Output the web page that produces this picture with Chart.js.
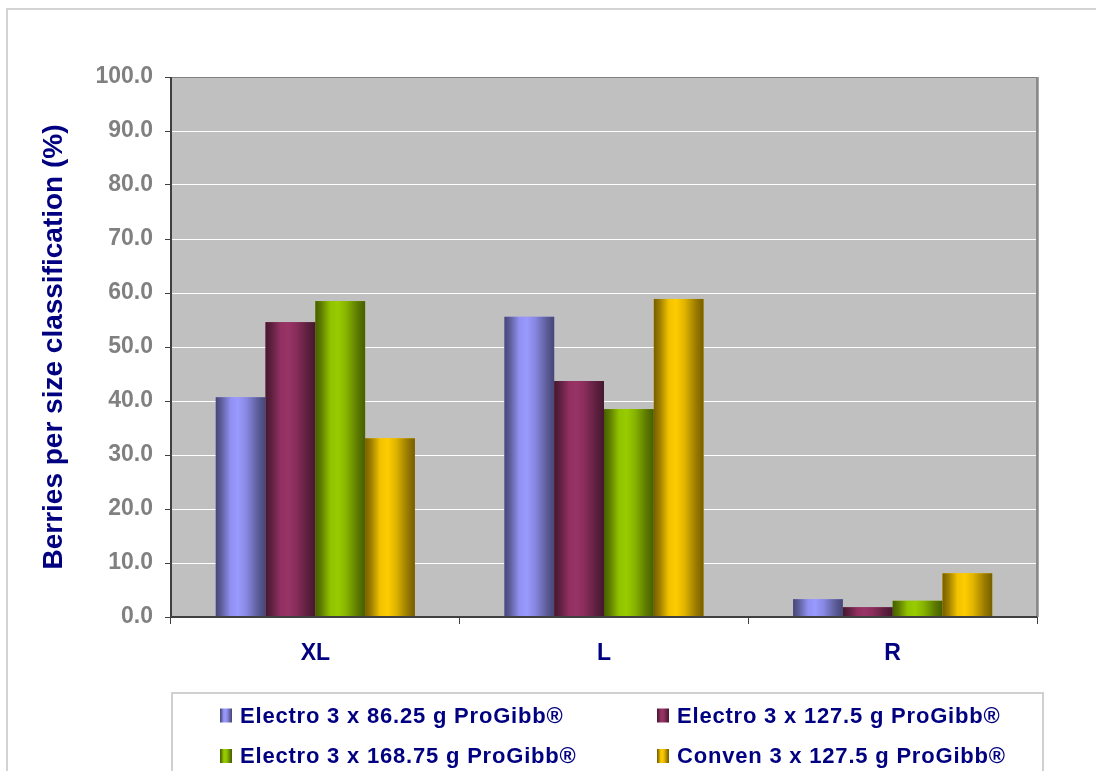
<!DOCTYPE html>
<html>
<head>
<meta charset="utf-8">
<script src="https://cdn.jsdelivr.net/npm/chart.js@4/dist/chart.umd.min.js"></script>
<style>
  html, body { margin: 0; padding: 0; background: #ffffff; }
  #wrap { width: 1096px; height: 771px; position: relative; }
</style>
</head>
<body>
<div id="wrap"><canvas id="c" width="1096" height="771"></canvas></div>
<script>
// Size classes on the x axis
const categories = ['XL', 'L', 'R'];

// Treatment names
const seriesNames = [
  'Electro 3 x 86.25 g ProGibb®',
  'Electro 3 x 127.5 g ProGibb®',
  'Electro 3 x 168.75 g ProGibb®',
  'Conven 3 x 127.5 g ProGibb®'
];

// Share of berries (%) per size class, one array per treatment
const electro86 = [40.7, 55.6, 3.3];
const electro127 = [54.6, 43.7, 1.8];
const electro168 = [58.5, 38.5, 3.0];
const conven127 = [33.1, 58.9, 8.1];

// Y axis tick values
const yTickValues = [0, 10, 20, 30, 40, 50, 60, 70, 80, 90, 100];

const seriesColors = ['#9999FF', '#993366', '#99CC00', '#FFCC00'];
const NAVY = '#000080';
const FONT = '"Liberation Sans", Arial, Helvetica, sans-serif';

function shade(hex, f) {
  const n = parseInt(hex.slice(1), 16);
  const r = Math.round(((n >> 16) & 255) * f);
  const g = Math.round(((n >> 8) & 255) * f);
  const b = Math.round((n & 255) * f);
  return `rgb(${r},${g},${b})`;
}

// Horizontal shading that gives each bar a rounded, cylinder-like look
function cylinderGradient(ctx, x0, x1, base) {
  const g = ctx.createLinearGradient(x0, 0, x1, 0);
  g.addColorStop(0, shade(base, 0.46));
  g.addColorStop(0.12, shade(base, 0.62));
  g.addColorStop(0.3, shade(base, 0.95));
  g.addColorStop(0.45, base);
  g.addColorStop(0.62, shade(base, 0.88));
  g.addColorStop(0.85, shade(base, 0.6));
  g.addColorStop(1, shade(base, 0.46));
  return g;
}

const seriesValues = [electro86, electro127, electro168, conven127];

const datasets = seriesNames.map((name, i) => ({
  label: name,
  data: seriesValues[i],
  backgroundColor: seriesColors[i],
  borderWidth: 0,
  barPercentage: 1.0,
  categoryPercentage: 0.69
}));

// Outer frame and grey plot background
const backdropPlugin = {
  id: 'backdrop',
  beforeDraw(chart) {
    const { ctx, chartArea: a } = chart;
    ctx.save();
    ctx.strokeStyle = '#D4D4D4';
    ctx.lineWidth = 2;
    ctx.strokeRect(7, 9, 1200, 1000);
    ctx.fillStyle = '#C0C0C0';
    ctx.fillRect(a.left, a.top, a.right - a.left, a.bottom - a.top);
    ctx.restore();
  }
};

// Repaint every bar with its shaded fill, then the plot frame on top
const shadedBarsPlugin = {
  id: 'shadedBars',
  afterDatasetsDraw(chart) {
    const { ctx, chartArea: a } = chart;
    ctx.save();
    chart.data.datasets.forEach((ds, di) => {
      const meta = chart.getDatasetMeta(di);
      meta.data.forEach(el => {
        const p = el.getProps(['x', 'y', 'base', 'width'], true);
        const x0 = p.x - p.width / 2;
        const x1 = p.x + p.width / 2;
        const top = Math.min(p.y, p.base);
        const h = Math.abs(p.base - p.y);
        ctx.fillStyle = cylinderGradient(ctx, x0, x1, seriesColors[di]);
        ctx.fillRect(x0, top, x1 - x0, h);
      });
    });
    // plot frame
    ctx.strokeStyle = '#808080';
    ctx.lineWidth = 1;
    ctx.beginPath();
    ctx.moveTo(a.left, a.top + 0.5);
    ctx.lineTo(a.right, a.top + 0.5);
    ctx.stroke();
    ctx.strokeStyle = '#8A8A8A';
    ctx.lineWidth = 2;
    ctx.beginPath();
    ctx.moveTo(a.right, a.top);
    ctx.lineTo(a.right, a.bottom);
    ctx.stroke();
    ctx.strokeStyle = '#A8A8A8';
    ctx.lineWidth = 1;
    ctx.beginPath();
    ctx.moveTo(a.right + 1.5, a.top);
    ctx.lineTo(a.right + 1.5, a.bottom);
    ctx.stroke();
    ctx.strokeStyle = '#404040';
    ctx.lineWidth = 2;
    ctx.beginPath();
    ctx.moveTo(a.left, a.top);
    ctx.lineTo(a.left, a.bottom);
    ctx.lineTo(a.right, a.bottom);
    ctx.stroke();
    ctx.restore();
  }
};

// Boxed two-column legend under the axis
const boxedLegendPlugin = {
  id: 'boxedLegend',
  afterDraw(chart) {
    const { ctx } = chart;
    ctx.save();
    ctx.strokeStyle = '#D0D0D0';
    ctx.lineWidth = 2;
    ctx.strokeRect(172, 693, 871, 120);
    const colX = [220, 657];
    const rowY = [715.5, 756];
    ctx.font = 'bold 22px ' + FONT;
    ctx.fillStyle = NAVY;
    ctx.textBaseline = 'middle';
    ctx.textAlign = 'left';
    if ('letterSpacing' in ctx) ctx.letterSpacing = '0.8px';
    chart.data.datasets.forEach((ds, i) => {
      const x = colX[i % 2];
      const y = rowY[Math.floor(i / 2)];
      ctx.fillStyle = cylinderGradient(ctx, x, x + 12, seriesColors[i]);
      ctx.fillRect(x, y - 7, 12, 14);
      ctx.fillStyle = NAVY;
      ctx.fillText(ds.label, x + 20, y + 1);
    });
    ctx.restore();
  }
};

new Chart(document.getElementById('c'), {
  type: 'bar',
  data: { labels: categories, datasets },
  plugins: [backdropPlugin, shadedBarsPlugin, boxedLegendPlugin],
  options: {
    responsive: false,
    devicePixelRatio: 1,
    animation: false,
    layout: { padding: { left: 0, top: 77, right: 59, bottom: 94 } },
    plugins: {
      legend: { display: false },
      tooltip: { enabled: false }
    },
    scales: {
      x: {
        offset: true,
        grid: {
          display: true,
          offset: true,
          drawOnChartArea: false,
          drawTicks: true,
          tickLength: 7,
          tickColor: '#404040',
          tickWidth: 1
        },
        border: { display: false },
        ticks: {
          color: NAVY,
          font: { family: FONT, size: 23, weight: 'bold' },
          padding: 16
        },
        afterFit(scale) { scale.height = 60; }
      },
      y: {
        min: 0,
        max: 100,
        afterBuildTicks(scale) { scale.ticks = yTickValues.map(v => ({ value: v })); },
        grid: {
          color: '#FFFFFF',
          lineWidth: 1,
          drawTicks: true,
          tickLength: 6,
          tickColor: '#404040'
        },
        border: { display: false },
        ticks: {
          color: '#808080',
          font: { family: FONT, size: 23, weight: 'bold' },
          padding: 12,
          callback: v => Number(v).toFixed(1)
        },
        title: {
          display: true,
          text: 'Berries per size classification (%)',
          color: NAVY,
          font: { family: FONT, size: 28, weight: 'bold' },
          padding: { top: 37, bottom: 0 }
        },
        afterFit(scale) { scale.width = 171; }
      }
    }
  }
});
</script>
</body>
</html>
